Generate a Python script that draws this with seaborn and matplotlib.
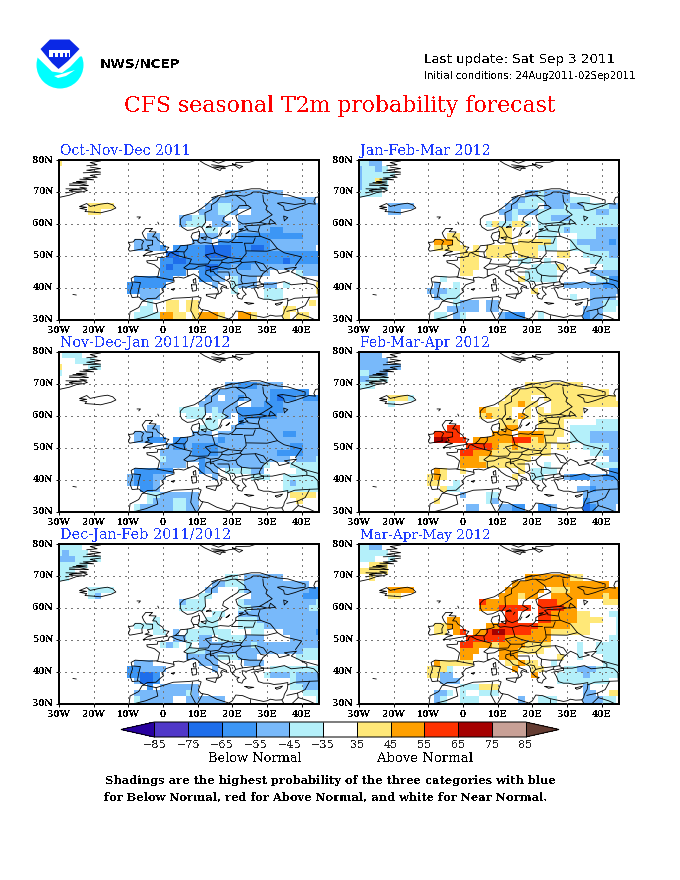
import numpy as np
import seaborn as sns
import matplotlib
matplotlib.use("Agg")
import matplotlib.pyplot as plt
from matplotlib.colors import ListedColormap, BoundaryNorm
from matplotlib.cm import ScalarMappable
from matplotlib.patches import Circle, Polygon, Rectangle

# probability bins (%) and colours, sign = below / above normal
BOUNDS = [-85, -75, -65, -55, -45, -35, 35, 45, 55, 65, 75, 85]
BIN_COLORS = ["#5038c8", "#1e6eeb", "#3c96f5", "#78b9fa", "#b4f0fa", "#ffffff",
              "#ffe878", "#ffa000", "#ff3200", "#a50000", "#c8a096"]
UNDER_COLOR = "#2800a0"
OVER_COLOR = "#643c32"
PROB = {"a": -40, "b": -50, "c": -60, "d": -70, "y": 40, "o": 50, "r": 60, "m": 70}

LON_TICKS = [-30, -20, -10, 0, 10, 20, 30, 40]
LON_LABELS = ["30W", "20W", "10W", "0", "10E", "20E", "30E", "40E"]
LAT_TICKS = [30, 40, 50, 60, 70, 80]
LAT_LABELS = ["30N", "40N", "50N", "60N", "70N", "80N"]

# each row (80N downwards) lists "first-last column + bin"; column 0 is 30W, step 1.875 deg
OND = ["0y", "", "", "", "", "26-34b", "24-39b",
       "5-8y 23-24b 25-26a 27-40b",
       "5-6y 22-24b 25-26a 27b 30-40b",
       "19-20b 21-22a 23-25b 28-40b",
       "19b 20-22a 24-26b 28-40b",
       "23-24a 28-32b 33-34c 35-40b",
       "14-15b 22-24b 27b 28-37c 38-40b",
       "12-15b 21-23b 25-32c 33-40b",
       "12-13b 14-15b 16c 18-19c 20-22c 23-26d 27-29c 30-31d 32c 33-39b",
       "17-18d 19-22c 23-26d 27-40c",
       "16-17c 18-19d 20-34c 35d 36-40c",
       "16c 17d 18-22c 23-24d 25-26c 27b 28-29c 30-40b",
       "16-19c 22-24c 25-27b 28-32b 37a 38-40b",
       "12-17c 22-23c 24-25b 27a 28-30b",
       "11-16c 24b 27a 28-30b 32-33b 35a 40y",
       "11-12c 13-15b 27a 32-34a 40y",
       "13-15b 32-34a",
       "14a 17-18y 20-21y 39y",
       "13-14a 17-18y 20-21y 35-36y",
       "12-15a 16-17o 18-19y 21y 22-24o 25y 28-29o 30y 35y 37-38y"]

JFM = ["0-1a 2-3b", "0b 1-2a 3b 4a", "0b 1-5a", "0b 1-2a 3y 4a", "0b 1-4a",
       "0-3a 26-27b 28a 29-32b",
       "24-25b 26-28a 29-32b 33-35a",
       "5-8b 23-24b 25-27a 29-31b 32a 33-34b 35-38a 39-40b",
       "5-6b 22-23b 24a 25-27b 28-33a 34-36a 37-38b 39-40a",
       "23b 24a 28-29a 30-32b 33-40a",
       "20a 21y 22-23a 24-25y 26a 28-40a",
       "22-23y 28-31a 32b 33-36a 37-40b",
       "14-15y 22-23y 28-30a 34-36a 37-40b",
       "12-13o 14o 15y 23y 25-29y 30a 33a 34-38b 39c 40b",
       "12-13y 14-16y 18y 20-27y 28-30a 33-35a 36-40b",
       "16-18y 20-23y 25-27y 31-32y 35-38a 39-40b",
       "16-18y 25-26a 29a 36-40a",
       "16-18y 27-30a 31y 38-40a",
       "16-17y 26-30a 36-40b",
       "13a 25y 26-30a 37-38a 39-40c",
       "12b 15a 32-37b 38-40c",
       "11-13b 14-15a 27y 36-40b",
       "12b 13-15a 33a 36-39b",
       "15a 16-18b 20-21b 36-37b 38-40a",
       "14-15b 16-18b 20-21b 35b 36-37b 38-39a",
       "12-13a 15b 16a 22b 23-25c 28a 35c 36-37b"]

NDJ = ["1-3a", "3-5a", "0y 5-6a", "0a", "", "26-27b 28-30c 31-34b",
       "24-32b 33-38c",
       "23-24b 26-27b 28c 29-32b 33c 34d 35-36c 37b 38-40c",
       "22-27b 30-31b 32-34c 35-40b",
       "19-22a 23b 24a 25-27b 28-34c 35-40b",
       "20-22a 24-25a 26b 28-33c 34-40b",
       "23-24a 28c 29-40b",
       "14-15b 22-24a 27b 28-40b",
       "12-15b 21-23b 25-34b 35-36c 37-40b",
       "12-13b 14-16c 18-19c 20-24b 25c 26-40b",
       "17b 18-19c 20b 21-24c 25-35b 36-37c 38-40b",
       "16-20b 21-24c 25-33b 34-37c 38-40b",
       "16a 17-21b 22c 23-35b 37-39b 40a",
       "16-19b 22c 23-31b 32a 36-40a",
       "12-17c 22c 23-24b 26-29a 30-31b 37-40a",
       "11b 12-14c 15-16b 24b 30-32a 35-40a",
       "11b 12-14c 15b 35a 36b 37-40a",
       "13-14c 15b 35-40a",
       "14-15a 16-21b 36-39y",
       "14a 15b 16-17b 18-19a 20-21b 37y",
       "12a 13-14b 15-17b 18-19a 20-21b"]

FMA = ["0-3b", "0-4b", "0-6b", "0-1a 2-4b", "0-1b 2-4a", "0-2a 26-34y", "24-38y",
       "5-7y 8a 23-26y 29-39y",
       "5a 22-24y 25o 26-27y 30-40y",
       "19o 20-23y 26y 28y 30-34y",
       "19y 20o 21-23y 25o 26y 28-34y",
       "22-24y 28-31y 37-40a",
       "14-15r 22y 23-24o 28-31y 33-40a",
       "12-13r 14-15r 21-23o 25-28o 29-31y 33-35a 36-40b",
       "12-13m 14-16r 18-19o 20-23o 24r 25-26r 27y 28o 29-30y 33-35a 36-40b",
       "17-20r 21o 22-23y 24o 25-29y 31-32y 35-38a 39-40b",
       "16-17r 18-20o 21-29y 36-37a 38-40b",
       "16-18o 19y 20-26y 39-40b",
       "16-19o 20-25y 29a 37-40a",
       "12o 13y 16y 25y 27-30a 39-40c",
       "11y 12o 13y 24y 27-28a 32b 33-35c 36-37b 38-40c",
       "11-12y 15a 36-40b",
       "13y 14-15a 34-35b 36c 37-40b",
       "16b 20-21a 35-40b",
       "12y 20a 21b 35c 36-40b",
       "17-18b 22-23b 24-25c 28-29c 30b 35d 36c 37-39b"]

DJF = ["0-3a", "0a 1b 2-4a", "0-2b 3-6a", "0-4a", "0-2a",
       "0-1a 26-27a 29-34b",
       "24-25b 26-28a 29-38b",
       "5-8a 23-24b 28a 29-38b 39-40c",
       "5a 6b 22-23a 30-37b 38-40c",
       "19b 20-22a 28a 29-39b 40a",
       "19-22a 28-29a 30-38b 39-40a",
       "24-25a 28b 29-40b",
       "15a 23-24a 28-30a 31-40b",
       "12-15a 22-24a 28-31a 32-40b",
       "15-16a 18b 20-26a 30-31a 35-39b 40c",
       "18-19b 20-21a 22-23b 25-28a 29-31b 36-40b",
       "16a 17b 18a 20a 22-29b 30a 31-40b",
       "20-22a 23-37b 38-40a",
       "20-24b 25-27a 28-30b 37-40a",
       "12-14b 22-24b 29-31b",
       "11-12c 13-16b 24b 33-40a",
       "11-12c 13-14d 15c 32a 33-35b 36a 37-40b",
       "12b 13-14d 15c 36a 37-40b",
       "14c 16-21b 36-37a 38-40b",
       "12-19b 20a 21b 38-40a",
       "12a 13-17b 20-25b 40a"]

MAM = ["0-1a 2-3b", "0-4a", "0-2a 5a", "2-4y", "0-4y",
       "2y 26-32o 33-34y",
       "24-38o",
       "5-8o 23-28o 30-32y 33-40o",
       "5-6y 22-24o 25y 26-27o 30-37o 38y 39-40o",
       "19r 20-24o 28-30r 31-33o 38-40y",
       "19-21o 22-26r 28-31r 32-33o",
       "23-24r 28-29r 30-33o 34-35y 39-40a",
       "14-15o 23-24r 28-29r 30-33o 34-37y 40a",
       "12-13y 14-15o 20-21o 22-27r 28-32o 33-35y 40a",
       "12-13y 15o 16r 18-19o 20r 21-22m 23-26r 27-29o 30-35y 40a",
       "17-22r 23-29o 39-40a",
       "16-17r 18-20o 21y 22-25o 26-29y 34a 37-40a",
       "16-18o 22-24o 25-28y 34a 37-40a",
       "16-17o 22-24o 31y 34a 38-40a",
       "12o 13-17y 23-24y 25o 26-27y 30a 38-40a",
       "11-13y 14a 24o 27-28y 32-33a 34-36b 37-40a",
       "11-12y 13-14b 27o 31-34a 35b 36-40a",
       "13-15b 31-38a",
       "16-18a 19-21y 35b",
       "12-13b 14a 16a 19-21a 35-36b 39-40y",
       "12b 13a 16-18a 25b 28-30a 35-37b 38-39a"]

PANEL_TITLES = ["Oct-Nov-Dec 2011", "Jan-Feb-Mar 2012", "Nov-Dec-Jan 2011/2012",
                "Feb-Mar-Apr 2012", "Dec-Jan-Feb 2011/2012", "Mar-Apr-May 2012"]

# map outlines as lon, lat
COAST = [
    [(45, 68.5), (44, 68.3), (43.5, 67), (44, 66.2), (42, 66.4), (40, 65.6), (38, 64.8), (36, 64.2), (35, 64.4),
     (34.8, 65.5), (33, 66.5), (34.5, 66.7), (38, 66.1), (41, 66.5), (41, 67.5), (39, 68.1), (36, 69.1), (33, 69.4),
     (31, 70), (28, 71), (25.5, 71), (22, 70.3), (19, 69.8), (16, 68.8), (14, 67.5), (12.5, 66), (11, 64.8), (9, 63.5),
     (6, 62.6), (5, 61.5), (5, 60), (5.5, 59), (7, 58), (8.5, 58.2), (10.5, 59.2), (11.2, 59), (12, 57.5), (12.8, 56),
     (14.2, 55.4), (16, 56.2), (16.6, 57.5), (17, 58.7), (18.8, 59.8), (17.2, 60.8), (17.5, 62), (19.5, 63.5),
     (21.5, 64.8), (22, 65.7), (24.5, 65.8), (25.4, 65), (23, 63.8), (21, 62.6), (21.5, 61), (23, 60), (25, 60.2),
     (28, 60.5), (30, 60), (28.5, 59.7), (24.5, 59.5), (23.5, 59.2), (24.5, 58.3), (22, 57.6), (21, 57), (21, 56),
     (20, 54.8), (19, 54.3), (16.5, 54.5), (14.2, 53.9), (12, 54.2), (10.8, 54), (10, 54.5), (10.5, 56), (10.5, 57.7),
     (8.5, 57.1), (8.1, 56), (8.7, 54.9), (9, 54), (8, 53.6), (7, 53.4), (5, 53.2), (4.5, 52.3), (3.5, 51.4),
     (1.8, 50.9), (1.5, 50), (0, 49.5), (-1.5, 49.6), (-1.6, 48.7), (-4.7, 48.5), (-4.5, 47.9), (-2.5, 47.3), (-1, 46),
     (-1.5, 43.5), (-4, 43.4), (-8, 43.7), (-9.2, 43), (-8.8, 41), (-9.5, 38.7), (-8.9, 37), (-7, 37.2), (-6.3, 36.6),
     (-5.5, 36), (-4.5, 36.7), (-2, 36.8), (-0.5, 38.3), (0.2, 38.8), (-0.3, 39.5), (0.8, 41), (3.2, 41.9), (3, 43.2),
     (4.5, 43.4), (6, 43.1), (7.5, 43.8), (8.8, 44.4), (10.2, 43.5), (11, 42.5), (12.5, 41.4), (14, 40.8), (15.6, 40),
     (16, 38.8), (15.7, 38), (16.5, 38.4), (17, 39), (16.6, 39.8), (17, 40.5), (18.4, 39.9), (18.3, 40.5), (16, 41.5),
     (16.2, 41.9), (14.5, 42.3), (13.6, 43.5), (12.3, 44.3), (12.4, 45.4), (13.6, 45.7), (13.7, 45), (14.5, 45.3),
     (15, 44.5), (17, 43), (19, 42), (19.5, 41), (19.5, 40.2), (21, 38.5), (22, 38.3), (21.3, 37.8), (21.7, 36.8),
     (22.8, 36.5), (23.2, 37.5), (24, 38), (23, 39.3), (22.8, 40.4), (24, 40.2), (26, 40.9), (26.5, 40.6), (29, 41.2)],
    [(26.2, 40), (27, 38.5), (27.5, 37), (29, 36.5), (30.5, 36.5), (32, 36.1), (34, 36.3), (36, 36.7), (36, 35.8),
     (35.8, 34.5), (35, 33), (34.8, 32), (34.3, 31.3), (32.5, 31.2), (31, 31.5), (30, 31), (29, 30.8), (25, 31.7),
     (23, 32.6), (21, 32.8), (20, 31), (19, 30.3), (15.5, 31.5), (13, 32.9), (11, 33.3), (10.2, 34.3), (11, 36.9),
     (10, 37.3), (7, 37), (3, 36.8), (0, 35.8), (-2, 35.1), (-5.3, 35.9), (-6, 35.8), (-7, 33.9), (-9.5, 32.5), (-9.8, 30)],
    [(26.2, 40), (29, 40.5), (29, 41.2)],
    # black sea
    [(29, 41.2), (31.5, 41.2), (35, 42), (37, 41), (41.5, 41.5), (41.5, 42.5), (39, 44), (37, 45), (38.5, 46.5), (35, 46),
     (36.5, 45.3), (33.5, 44.5), (33, 45.5), (31, 46.5), (28.8, 44.5), (27.8, 42.5), (28, 41.6), (29, 41.2)],
    # islands
    [(-5.7, 50.1), (-3.5, 50.3), (-1, 50.8), (1.4, 51.2), (0.8, 51.5), (1.7, 52.7), (0.3, 53), (-0.1, 54), (-1.5, 55),
     (-2, 55.9), (-3, 56), (-2, 57.5), (-4, 57.6), (-3, 58.6), (-5, 58.6), (-6, 57.2), (-5.5, 56), (-4.8, 55), (-3, 54.9),
     (-3, 53.5), (-4.5, 53.2), (-4, 52.3), (-5.2, 51.8), (-3, 51.4), (-4.5, 51), (-5.7, 50.1)],
    [(-6, 52.2), (-6.1, 53.5), (-5.6, 54.6), (-6.5, 55.2), (-8, 55.2), (-8.6, 54.4), (-10, 54.2), (-9.5, 53.3), (-10, 52),
     (-9.6, 51.5), (-8, 51.8), (-6, 52.2)],
    [(-24, 65.5), (-22, 66.4), (-21, 65.5), (-18, 66.2), (-16, 66.5), (-14.5, 66), (-13.6, 65), (-15, 64.3), (-18, 63.5),
     (-20, 63.7), (-22.5, 63.9), (-22, 64.5), (-24, 64.9), (-22, 65.2), (-24, 65.5)],
    [(8.2, 41), (9.7, 41), (9.6, 39.2), (8.5, 39), (8.2, 41)],
    [(8.7, 42.5), (9.4, 43), (9.5, 41.5), (8.8, 41.6), (8.7, 42.5)],
    [(12.5, 38), (15.6, 38.2), (15.1, 36.7), (12.5, 37.6), (12.5, 38)],
    [(23.6, 35.5), (26.2, 35.2), (24.7, 34.9), (23.6, 35.5)],
    [(32.4, 35), (34.5, 35.6), (33.8, 34.9), (32.8, 34.6), (32.4, 35)],
    [(2.4, 39.6), (3.4, 39.8), (3, 39.3), (2.4, 39.6)],
    [(18.2, 57), (19.2, 57.9), (18.8, 57.3), (18.2, 57)],
    [(16.4, 56.2), (17, 57.2)],
    [(22, 58.3), (23.2, 58.6), (22.5, 58), (22, 58.3)],
    [(11, 55.7), (12.5, 56), (12.3, 55), (11, 55.7)],
    [(-7.5, 62.2), (-6.5, 62.2), (-7, 61.6)],
    [(-1.5, 60.6), (-1.2, 59.9)],
    [(-26, 38), (-25, 37.8)],
    [(14, 68.2), (16, 68.9)],
    [(18, 69.6), (20, 70.2)],
    # svalbard
    [(10.7, 79.7), (12, 78.8), (14, 77.8), (16.5, 76.7), (17, 77.5), (19, 78.2), (21, 78.5), (21, 79.2), (25, 79.3), (27, 80)],
    [(14, 79.8), (16, 79), (18, 79.8)],
    [(14, 78.5), (18, 78), (14.5, 77.8), (18, 77.3)],
    [(20, 78.8), (23, 78), (22, 77.4), (20, 78.8)],
    # greenland
    [(-30, 68.3), (-27, 69), (-25, 69.8), (-23, 70.1), (-21.8, 70.5), (-23, 71), (-27, 70.5), (-25, 70.9)],
    [(-28, 69.7), (-26, 70.2), (-23.5, 70.3)],
    [(-28, 71), (-24, 70.9), (-22, 71.2), (-24, 71.5)],
    [(-27, 72.1), (-24, 72), (-21.5, 72), (-24, 72.6), (-27, 72.5)],
    [(-26, 73), (-22, 72.8), (-25, 73.3), (-22, 73.4)],
    [(-24, 74), (-20, 73.8), (-23, 74.4), (-19, 74.6), (-21, 75.2), (-18, 75.6)],
    [(-23, 76), (-18, 76.2), (-22, 76.8), (-18, 77.3), (-21, 77.8)],
    [(-22, 78.2), (-19, 78.5), (-21, 79.2), (-18, 79.7)],
]
BORDERS = [
    [(11.2, 59), (12.3, 60.5), (12.2, 61.5), (12.1, 63.5), (14, 64.5), (14, 66), (15.5, 67), (16.5, 68.5), (18.2, 68.5),
     (20, 69), (21, 69), (23.5, 68.7), (25.5, 69.5), (26, 70), (28, 70), (29, 69.5), (30.8, 69.7)],
    [(24.1, 65.8), (23.6, 67), (21, 69)],
    [(28.8, 69.1), (29, 67), (30, 65.5), (29.7, 64.5), (31.5, 62.9), (29, 61.2), (27.8, 60.5)],
    [(28, 59.5), (27.5, 58), (28, 56.2), (31, 55), (33, 52.3), (35, 51), (40, 49.7), (38.2, 47)],
    [(21, 56.1), (26, 56), (28, 56.2)], [(24.4, 57.9), (27.4, 57.5)],
    [(26.6, 55.7), (26, 54), (23.5, 54), (23.8, 52.5), (24, 50.8), (22.7, 49.1)],
    [(19.6, 54.4), (22.8, 54.4)],
    [(14.2, 53.9), (14.6, 52.5), (15, 51), (16.5, 50.3), (19, 49.5), (22.7, 49.1)],
    [(15, 51), (12.2, 50.3), (13.7, 48.7), (13, 47.5), (10, 47.4), (7.6, 47.6), (8.2, 49), (6.3, 49.5), (6, 51), (7, 52.3), (7, 53.4)],
    [(8.7, 54.9), (10, 54.8)], [(3.5, 51.4), (6, 51.3)], [(2.5, 51), (4, 50.2), (6.3, 49.5)],
    [(7.6, 47.6), (6, 46.3), (7, 45.8), (7, 44), (7.5, 43.8)],
    [(7, 45.8), (9, 46), (10.4, 46.8), (12.2, 47), (13.7, 46.5), (13.7, 45.5)],
    [(13.7, 48.7), (17, 48.7), (18.8, 49.5)],
    [(17, 48.7), (17, 48), (16, 46.8), (13.7, 46.5)],
    [(17, 48), (18.8, 47.8), (22.2, 48.4), (22.8, 48), (21, 46.2), (18.8, 45.9), (16.5, 46.5), (13.7, 45.5)],
    [(22.7, 49.1), (22.2, 48.4)],
    [(22.8, 48), (26.5, 48.2), (28.2, 45.5), (29.7, 45.2)],
    [(22.7, 44), (25, 43.7), (28.6, 43.7)], [(21, 46.2), (21.5, 44.8), (22.7, 44), (22.5, 42.3), (23, 41.3)],
    [(20, 39.7), (21, 40.8), (23, 41.3), (26.3, 41.7), (26, 40.9)], [(26.3, 41.7), (28, 42)],
    [(15.8, 45), (19, 45), (19.3, 43), (18.5, 42.5)], [(19.4, 42.2), (20.5, 42), (21, 40.8)],
    [(26.6, 48.3), (29, 47.5), (30, 46)],
    [(24, 51.6), (30, 51.5), (33, 52.3)],
    [(-8.8, 41.9), (-6.5, 41.7), (-7, 39.6), (-7.4, 37.2)], [(-1.8, 43.4), (3.2, 42.4)],
    [(40, 43.5), (45, 42)], [(41.5, 41.5), (43.5, 41), (44.7, 39.7), (44.8, 37.2)],
    [(36, 36), (38, 36.8), (42.3, 37.1), (44.8, 37.2)], [(42.3, 37.1), (41, 34.5), (38.8, 33.4), (35.7, 32.7)],
    [(38.8, 33.4), (39, 32), (37, 29.9)], [(39, 32), (42, 31), (45, 29.5)], [(34.3, 31.3), (34.9, 30)],
    [(-2, 35.1), (-1.5, 32.5), (-5, 31), (-8.7, 30)], [(8.5, 36.9), (8, 33), (9.5, 30)], [(11.5, 33.2), (10, 30.2)],
    [(25, 31.6), (25, 30)],
    # lakes
    [(30.5, 60), (32.5, 60.2), (31, 61.5), (30.5, 60)], [(35, 61), (36, 62), (34.8, 62.5), (35, 61)],
    [(12.5, 59), (14, 59), (13.5, 59.4), (12.5, 59)], [(14.5, 58), (15, 58.7)],
]

W, H = 680, 880
PANEL_BOXES = [(59, 160), (359, 160), (59, 352), (359, 352), (59, 544), (359, 544)]
PANEL_W, PANEL_H = 260, 160

sns.set_theme(style="white")
plt.rcParams["font.family"] = ["DejaVu Serif"]
plt.rcParams["text.antialiased"] = False


def to_cell(lon, lat):
    # heatmap cell coordinates: column centres sit on the 1.875 deg grid
    return (np.asarray(lon) + 30) / 1.875 + 0.5, (80 - np.asarray(lat)) / 1.9048


def build_grid(spec_rows):
    grid = np.zeros((27, 41))
    for i, spec in enumerate(spec_rows):
        for tok in spec.split():
            a, _, b = tok[:-1].partition("-")
            grid[i, int(a):int(b or a) + 1] = PROB[tok[-1]]
    grid[26] = grid[25]
    return grid


cmap = ListedColormap(BIN_COLORS).with_extremes(under=UNDER_COLOR, over=OVER_COLOR)
norm = BoundaryNorm(BOUNDS, cmap.N)

fig = plt.figure(figsize=(W / 100, H / 100), dpi=100, facecolor="white")


def fit_text(x0, x1, y, s, **kw):
    # text squeezed to the pixel span x0..x1, centred on row y
    t = fig.text(x0 / W, 1 - y / H, s, ha="left", va="center", **kw)
    box = t.get_window_extent(fig.canvas.get_renderer())
    t.set_fontsize(t.get_fontsize() * (x1 - x0) / box.width)
    return t


panels = [OND, JFM, NDJ, FMA, DJF, MAM]
for data, title, (px, py) in zip(panels, PANEL_TITLES, PANEL_BOXES):
    ax = fig.add_axes([px / W, 1 - (py + PANEL_H) / H, PANEL_W / W, PANEL_H / H])
    sns.heatmap(build_grid(data), cmap=cmap, norm=norm, cbar=False, ax=ax)
    ax.set_xlim(0.5, 40.5)
    ax.set_ylim(26.25, 0)

    for lon in LON_TICKS[1:]:
        ax.axvline(to_cell(lon, 0)[0], color="#777777", lw=0.72, ls=(0, (2, 5)), antialiased=False, zorder=3)
    for lat in LAT_TICKS[1:-1]:
        ax.axhline(to_cell(0, lat)[1], color="#777777", lw=0.72, ls=(0, (2, 5)), antialiased=False, zorder=3)

    for seg in COAST + BORDERS:
        lons, lats = zip(*seg)
        xs, ys = to_cell(lons, lats)
        ax.plot(xs, ys, color="black", lw=0.6, zorder=4)

    ax.set_xticks(to_cell(LON_TICKS, 0)[0], LON_LABELS, rotation=0)
    ax.set_yticks(to_cell(0, LAT_TICKS)[1], LAT_LABELS, rotation=0)
    ax.tick_params(length=2, width=0.72, pad=2, labelsize=6.5, colors="black", bottom=True, left=True)
    for lab in ax.get_xticklabels() + ax.get_yticklabels():
        lab.set_fontweight("bold")
    for spine in ax.spines.values():
        spine.set_visible(True)
        spine.set_color("black")
        spine.set_linewidth(1.44)
    fit_text(px + 1, px + 1 + 8.15 * len(title), py - 9, title, color="#1e3cff", fontsize=9)

# colour key under the panels, the pointed ends live inside the axes
cax = fig.add_axes([121 / W, 1 - 737 / H, 438 / W, 15 / H])
cb = fig.colorbar(ScalarMappable(norm=norm, cmap=cmap), cax=cax, orientation="horizontal",
                  extend="both", extendfrac=0.09, spacing="uniform", drawedges=True, ticks=BOUNDS)
cb.set_ticklabels([str(abs(b)) if b > 0 else "\u2212%d" % abs(b) for b in BOUNDS])
cb.ax.tick_params(length=0, pad=2, labelsize=8)
cb.outline.set_linewidth(0.72)
cb.outline.set_edgecolor("black")
cb.dividers.set_color("black")
cb.dividers.set_linewidth(0.72)

fit_text(208, 302, 758, "Below Normal", color="black", fontsize=9)
fit_text(377, 473, 758, "Above Normal", color="black", fontsize=9)
fit_text(105, 557, 781, "Shadings are the highest probability of the three categories with blue", color="black", fontsize=8, fontweight="bold")
fit_text(104, 548, 797, "for Below Normal, red for Above Normal, and white for Near Normal.", color="black", fontsize=8, fontweight="bold")

# header
fit_text(124, 557, 106, "CFS seasonal T2m probability forecast", color="#ff0000", fontsize=14)
fit_text(100, 181, 64, "NWS/NCEP", color="black", fontsize=10, fontweight="bold", family="DejaVu Sans")
fit_text(424, 615, 60, "Last update: Sat Sep 3 2011", color="black", fontsize=9, family="DejaVu Sans")
fit_text(424, 636, 76, "Initial conditions: 24Aug2011-02Sep2011", color="black", fontsize=7, family="DejaVu Sans")

# NOAA emblem
logo = fig.add_axes([0, 0, 1, 1], facecolor="none")
logo.set_xlim(0, W)
logo.set_ylim(H, 0)
logo.axis("off")
logo.add_patch(Circle((60, 65), 23.5, color="#00ffff", lw=0, zorder=1))
# white sweep between the blue cap and the cyan bowl
logo.add_patch(Polygon([(34, 38), (86, 38), (86, 56), (80, 56.5), (70, 67), (62, 73), (52, 71.5), (37, 57), (34, 56)],
                       color="white", lw=0, zorder=2))
logo.add_patch(Polygon([(40.5, 49), (50, 39.5), (69.5, 39.5), (79.5, 49), (68, 61), (58.5, 69), (52, 63)],
                       color="#0a28e6", lw=0, zorder=3))
logo.add_patch(Rectangle((49, 50), 21, 7, color="white", lw=0, zorder=4))
for nx in [53, 58, 63, 67]:
    logo.add_patch(Rectangle((nx, 53.5), 1.5, 3.5, color="#0a28e6", lw=0, zorder=5))
# gull
logo.add_patch(Polygon([(54, 76), (60, 74.5), (75, 70), (66, 76), (58, 78)], color="white", lw=0, zorder=5))

fig.savefig("out.png", dpi=100)
